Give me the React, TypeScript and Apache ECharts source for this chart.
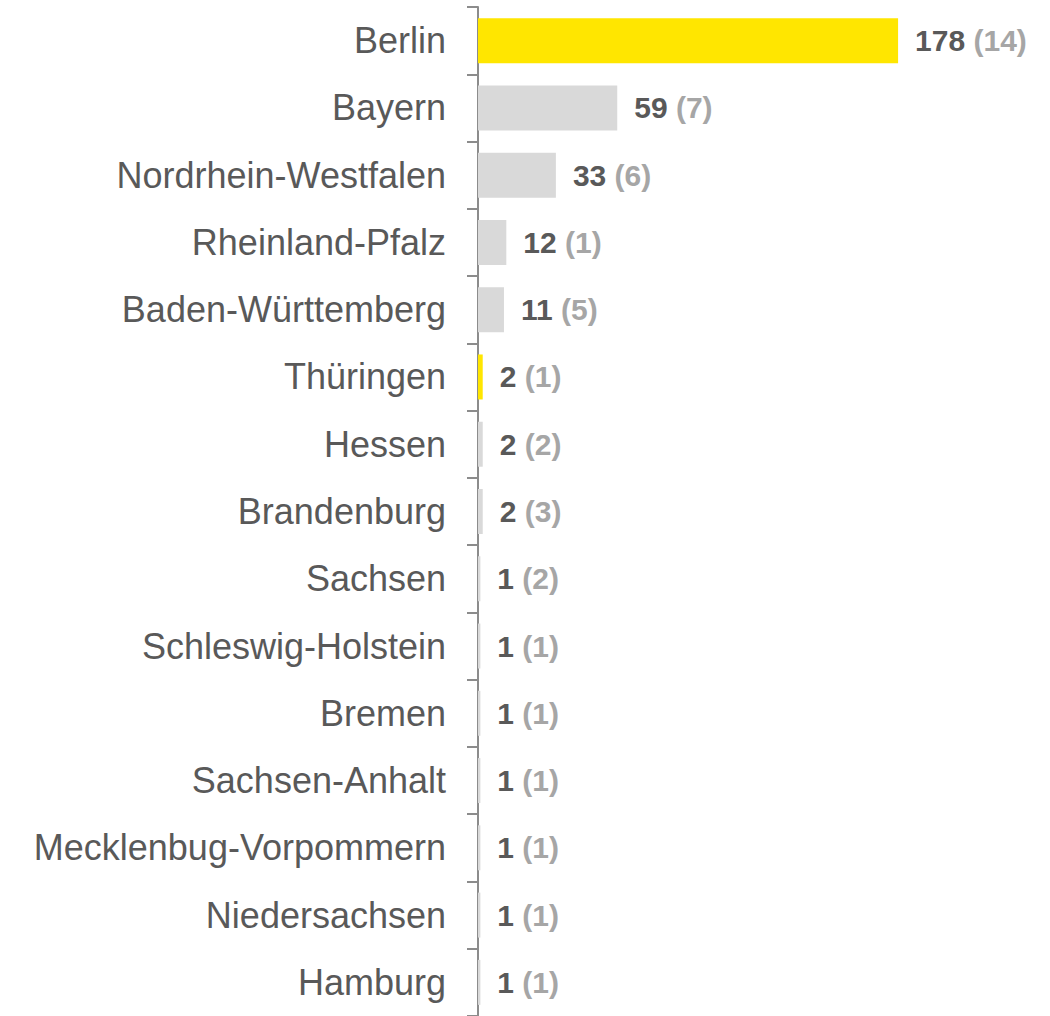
import React, { useEffect, useRef } from "react";
import * as echarts from "echarts";

const categories = [
  "Berlin",
  "Bayern",
  "Nordrhein-Westfalen",
  "Rheinland-Pfalz",
  "Baden-Württemberg",
  "Thüringen",
  "Hessen",
  "Brandenburg",
  "Sachsen",
  "Schleswig-Holstein",
  "Bremen",
  "Sachsen-Anhalt",
  "Mecklenbug-Vorpommern",
  "Niedersachsen",
  "Hamburg",
];
const values = [178, 59, 33, 12, 11, 2, 2, 2, 1, 1, 1, 1, 1, 1, 1];
const counts = [14, 7, 6, 1, 5, 1, 2, 3, 2, 1, 1, 1, 1, 1, 1];
const highlighted = ["Berlin", "Thüringen"];

const YELLOW = "#FFE600";
const GRAY = "#D9D9D9";
const TEXT = "#595959";
const LIGHT = "#A6A6A6";
const AXIS = "#8C8C8C";
const FONT = "'Liberation Sans', Arial, sans-serif";

export default function App() {
  const ref = useRef<HTMLDivElement>(null);
  useEffect(() => {
    if (!ref.current) return;
    const chart = echarts.init(ref.current, null, { renderer: "svg" });
    chart.setOption({
      animation: false,
      backgroundColor: "#ffffff",
      grid: { left: 478, top: 7, width: 472, height: 1014, containLabel: false },
      xAxis: {
        type: "value",
        min: 0,
        max: 200,
        show: false,
      },
      yAxis: {
        type: "category",
        data: categories,
        inverse: true,
        axisLine: { show: true, lineStyle: { color: AXIS, width: 2 } },
        axisTick: {
          show: true,
          inside: false,
          length: 11,
          alignWithLabel: false,
          lineStyle: { color: AXIS, width: 2 },
        },
        axisLabel: {
          margin: 32,
          color: TEXT,
          fontSize: 36,
          fontFamily: FONT,
        },
        splitLine: { show: false },
      },
      series: [
        {
          type: "bar",
          barWidth: 45,
          data: values.map((v, i) => ({
            value: v,
            itemStyle: {
              color: highlighted.includes(categories[i]) ? YELLOW : GRAY,
            },
          })),
          label: {
            show: true,
            position: "right",
            distance: 17,
            formatter: (p: any) => `{a|${p.value}}{b| (${counts[p.dataIndex]})}`,
            rich: {
              a: {
                color: TEXT,
                fontSize: 30,
                fontWeight: "bold",
                fontFamily: FONT,
              },
              b: {
                color: LIGHT,
                fontSize: 30,
                fontWeight: "bold",
                fontFamily: FONT,
              },
            },
          },
        },
      ],
    });
    return () => chart.dispose();
  }, []);
  return (
    <div
      ref={ref}
      style={{ position: "fixed", left: 0, top: 0, width: 1050, height: 1016 }}
    />
  );
}
